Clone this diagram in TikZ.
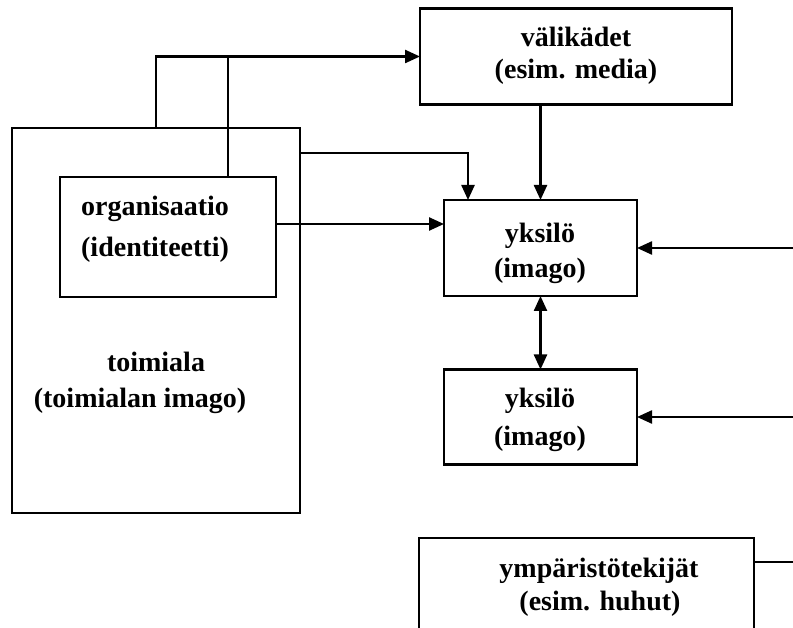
\documentclass[tikz,border=0pt]{standalone}
\usepackage{fontspec}
\setmainfont{Liberation Serif}
\usetikzlibrary{arrows.meta}
\begin{document}
\begin{tikzpicture}[x=1pt,y=-1pt,
  box/.style={draw, line width=2.4pt, rectangle, inner sep=0pt, outer sep=0pt, fill=white},
  txt/.style={inner sep=0pt, anchor=base, font=\bfseries\fontsize{28}{32}\selectfont},
  link/.style={line width=2.4pt},
  tip/.tip={Triangle[length=15pt,width=13pt]},
  arr/.style={link, -tip},
  darr/.style={link, tip-tip}]
\useasboundingbox (0,0) rectangle (793,628);
\clip (0,0) rectangle (793,628);
\fill[white] (0,0) rectangle (793,628);

% free ends at the right border
\coordinate (inA) at (793,248);
\coordinate (inB) at (793,417);
\coordinate (outC) at (793,562);

% boxes
\node[box, minimum width=288pt, minimum height=385pt] (toimiala) at (156,320.5) {};
\node[box, minimum width=216pt, minimum height=120pt] (org) at (168,237) {};
\node[box, minimum width=312pt, minimum height=96pt] (vali) at (576,56.5) {};
\node[box, minimum width=193pt, minimum height=96pt] (yk1) at (540.5,248) {};
\node[box, minimum width=193pt, minimum height=95pt] (yk2) at (540.5,417) {};
\node[box, minimum width=335pt, minimum height=110pt] (ymp) at (586.5,593) {};

% labels
\node[txt] (toimialaA) at (156,372) {toimiala};
\node[txt] (toimialaB) at (140,407) {(toimialan imago)};
\node[txt] (orgA) at (155,216) {organisaatio};
\node[txt] (orgB) at (155,257) {(identiteetti)};
\node[txt] (valiA) at (576,47) {välikädet};
\node[txt] (valiB) at (576,79) {(esim. media)};
\node[txt] (yk1A) at (540,243) {yksilö};
\node[txt] (yk1B) at (540,278) {(imago)};
\node[txt] (yk2A) at (540,408) {yksilö};
\node[txt] (yk2B) at (540,446) {(imago)};
\node[txt] (ympA) at (599,577) {ympäristötekijät};
\node[txt] (ympB) at (600,610) {(esim. huhut)};

% connectors
\draw[arr] (toimiala.north) |- (vali.west);
\draw[link] ([xshift=60pt]org.north) -- ([xshift=60pt]org.north |- vali.west);
\draw[arr] ([yshift=-25pt]toimiala.north east) -| ([xshift=-72.5pt]yk1.north);
\draw[arr] ([yshift=13pt]org.east) -- ([yshift=13pt]org.east -| yk1.west);
\draw[arr] (yk1.north |- vali.south) -- (yk1.north);
\draw[darr] (yk1.south) -- (yk2.north);
\draw[arr] (inA) -- (yk1.east);
\draw[arr] (inB) -- (yk2.east);
\draw[link] ([yshift=-24pt]ymp.north east) -- (outC);
\end{tikzpicture}
\end{document}
